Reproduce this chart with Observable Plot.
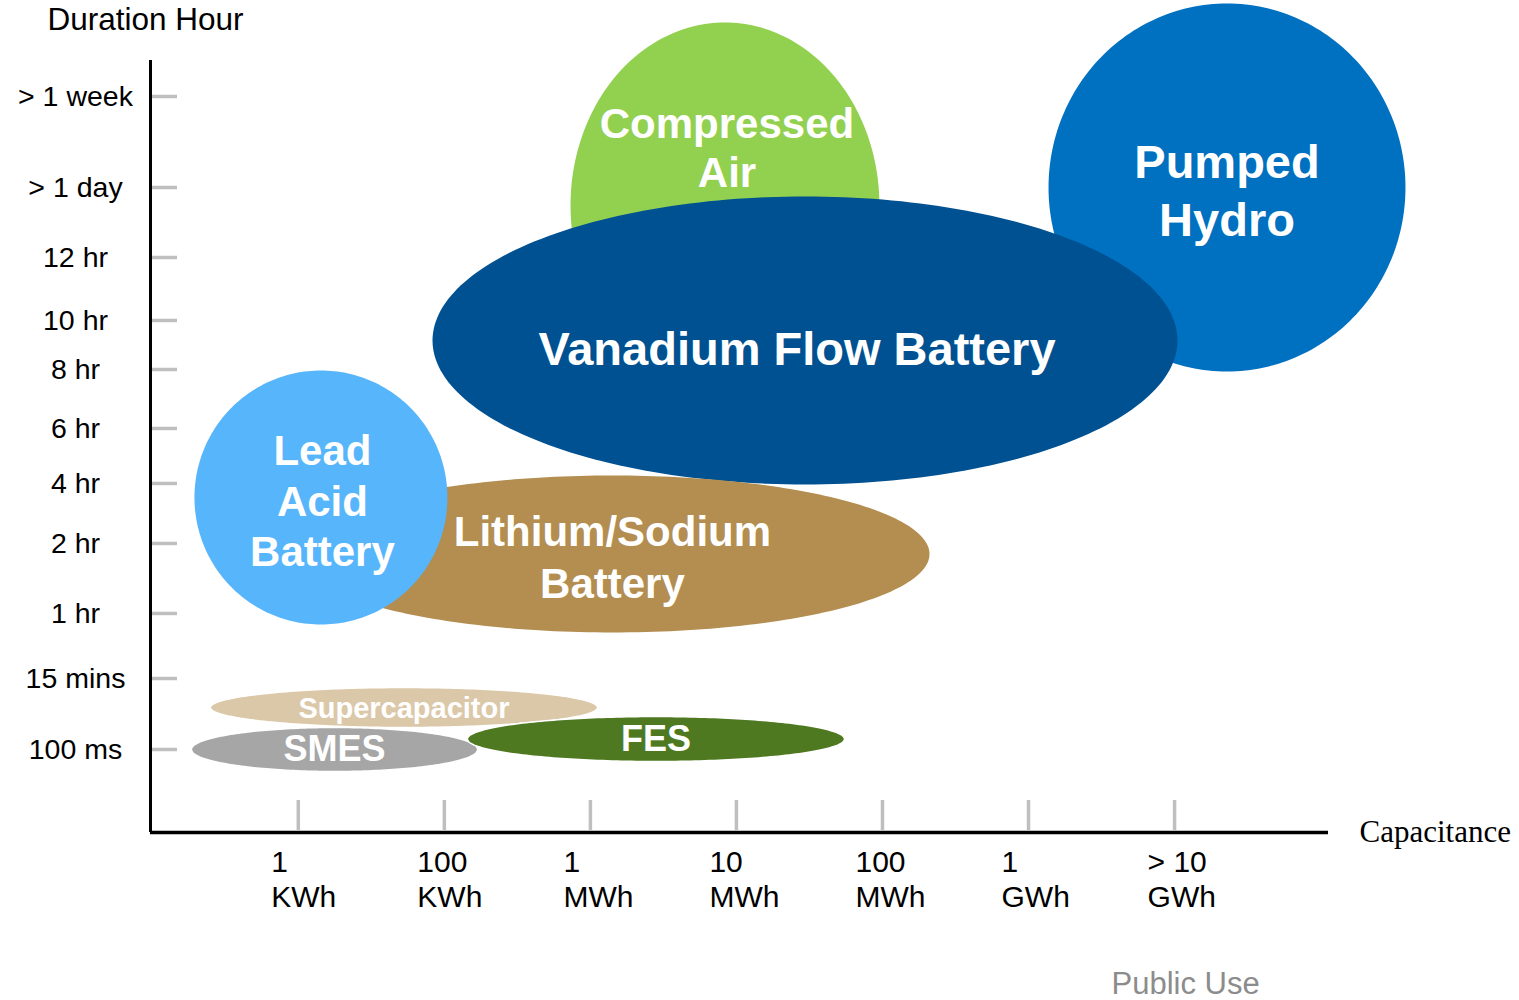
<!DOCTYPE html>
<html>
<head>
<meta charset="utf-8">
<script src="https://cdn.jsdelivr.net/npm/d3@7"></script>
<script src="https://cdn.jsdelivr.net/npm/@observablehq/plot@0.6"></script>
<style>
  html, body { margin: 0; padding: 0; background: #fff; }
  #chart svg { display: block; }
</style>
</head>
<body>
<div id="chart"></div>
<script>
// ---- Data (x: capacity tick index, y: duration level, 0 = "> 1 week", increasing downward) ----
const xTickIndex = [1, 2, 3, 4, 5, 6, 7];
const xTickLabels = ["1\nKWh", "100\nKWh", "1\nMWh", "10\nMWh", "100\nMWh", "1\nGWh", "> 10\nGWh"];

const yTickLevels = [0, 1.394, 2.466, 3.430, 4.181, 5.084, 5.926, 6.845, 7.917, 8.913, 10];
const yTickLabels = ["> 1 week", "> 1 day", "12 hr", "10 hr", "8 hr", "6 hr", "4 hr", "2 hr", "1 hr", "15 mins", "100 ms"];

const techs = ["Compressed Air", "Pumped Hydro", "Vanadium Flow Battery", "Lithium/Sodium Battery",
               "Lead Acid Battery", "Supercapacitor", "SMES", "FES"];
const techLabels = ["Compressed\nAir", "Pumped\nHydro", "Vanadium Flow Battery", "Lithium/Sodium\nBattery",
                    "Lead\nAcid\nBattery", "Supercapacitor", "SMES", "FES"];
const capMin = [2.864, 6.137, 1.919, 0.980, 0.289, 0.398, 0.268, 2.158];
const capMax = [4.979, 8.581, 7.020, 5.322, 2.021, 3.049, 2.228, 4.740];
const durMin = [-1.133, -1.424, 1.531, 5.804, 4.196, 9.051, 9.663, 9.495];
const durMax = [4.472, 4.211, 5.942, 8.208, 8.086, 9.663, 10.337, 10.184];

// ---- Styles ----
const techColors = ["#92D050", "#0070C0", "#005191", "#B38E50", "#57B5FC", "#DBC8A9", "#A6A6A6", "#4E7921"];
const techOutline = ["none", "none", "none", "none", "none", "white", "white", "white"];
const labelFontSize = [42, 47, 47, 42, 42, 29, 36, 36];
const labelLineHeight = [1.19, 1.23, 1, 1.24, 1.2, 1, 1, 1];
const labelDx = [2, 0, -8, 0, 1.5, 0, 0, 0];
const labelDy = [-59, 1, 9, 1, 2, 1, 0, 0];

// ---- Build ellipse outlines from each technology's capacity/duration range ----
const ellipses = techs.map((name, i) => {
  const cx = (capMin[i] + capMax[i]) / 2, rx = (capMax[i] - capMin[i]) / 2;
  const cy = (durMin[i] + durMax[i]) / 2, ry = (durMax[i] - durMin[i]) / 2;
  const pts = d3.range(0, 360, 1.5).map(deg => {
    const t = deg * Math.PI / 180;
    return {x: cx + rx * Math.cos(t), y: cy + ry * Math.sin(t)};
  });
  return {name, label: techLabels[i], cx, cy, pts, color: techColors[i], i};
});

const FONT = "'Liberation Sans', Arial, Helvetica, sans-serif";

const marks = [];
// Ellipses (draw order = array order)
for (const e of ellipses) {
  marks.push(Plot.line(e.pts, {
    x: "x", y: "y", curve: "linear-closed",
    fill: e.color, stroke: techOutline[e.i], strokeWidth: 1.5
  }));
}
// Labels
for (const e of ellipses) {
  marks.push(Plot.text([e], {
    x: "cx", y: "cy", text: "label",
    fill: "white", fontWeight: "bold", fontFamily: FONT,
    fontSize: labelFontSize[e.i], lineHeight: labelLineHeight[e.i],
    lineAnchor: "middle", textAnchor: "middle",
    dx: labelDx[e.i], dy: labelDy[e.i]
  }));
}

const yTicks = yTickLevels.map((v, i) => ({v, label: yTickLabels[i]}));
const xTicks = xTickIndex.map((v, i) => ({v, label: xTickLabels[i]}));

// Y tick marks (short gray dashes)
marks.push(Plot.tickY(yTicks, {y: "v", stroke: "#BFBFBF", strokeWidth: 3.5, insetLeft: 2, insetRight: 1151}));
// X tick marks (short gray verticals)
marks.push(Plot.tickX(xTicks, {x: "v", stroke: "#BFBFBF", strokeWidth: 3.5, insetTop: 740, insetBottom: 2}));
// Axis lines
marks.push(Plot.ruleX([-0.012], {stroke: "black", strokeWidth: 3}));
marks.push(Plot.ruleY([11.271], {stroke: "black", strokeWidth: 3.5}));
// Y tick labels
marks.push(Plot.text(yTicks, {
  y: "v", text: "label", frameAnchor: "left", textAnchor: "middle", lineAnchor: "middle",
  dx: -75, fontSize: 28.5, fontFamily: FONT, fill: "black"
}));
// X tick labels
marks.push(Plot.text(xTicks, {
  x: "v", text: "label", frameAnchor: "bottom", textAnchor: "start", lineAnchor: "top",
  dx: -27, dy: 14, fontSize: 30, lineHeight: 1.18, fontFamily: FONT, fill: "black"
}));
// Axis titles & footer
marks.push(Plot.text(["Duration Hour"], {
  frameAnchor: "top-left", textAnchor: "start", lineAnchor: "middle",
  dx: -103, dy: -41, fontSize: 31.5, fontFamily: FONT, fill: "black"
}));
marks.push(Plot.text(["Capacitance"], {
  frameAnchor: "bottom-right", textAnchor: "start", lineAnchor: "middle",
  dx: 31, dy: 0, fontSize: 31, fontFamily: "'Liberation Serif', 'Times New Roman', serif", fill: "black"
}));
marks.push(Plot.text(["Public Use"], {
  frameAnchor: "bottom-right", textAnchor: "start", lineAnchor: "middle",
  dx: -217, dy: 152, fontSize: 31, fontFamily: FONT, fill: "#8C8C8C"
}));

const chart = Plot.plot({
  width: 1519,
  height: 1000,
  marginLeft: 150,
  marginRight: 191,
  marginTop: 60,
  marginBottom: 168,
  style: {fontFamily: FONT, background: "white", overflow: "visible"},
  x: {domain: [-0.012, 8.054], axis: null},
  y: {domain: [-0.551, 11.271], reverse: true, axis: null},
  marks
});
document.getElementById("chart").appendChild(chart);
</script>
</body>
</html>
